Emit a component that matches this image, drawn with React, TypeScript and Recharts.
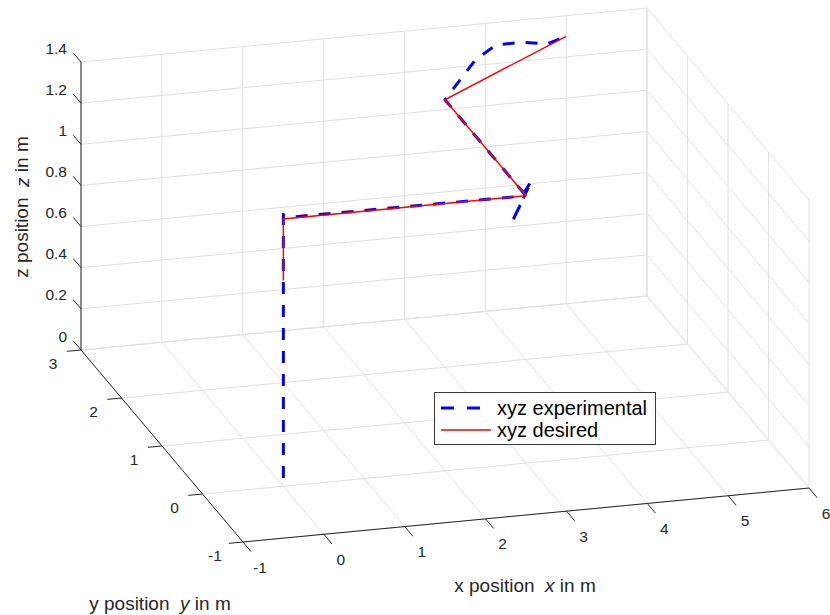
import React from "react";
import {
  ComposedChart,
  Line,
  Scatter,
  XAxis,
  YAxis,
  ReferenceLine,
  Legend
} from "recharts";

// axis ticks (metres)
const xTicks = [-1, 0, 1, 2, 3, 4, 5, 6];
const yTicks = [-1, 0, 1, 2, 3];
const zTicks = [0, 0.2, 0.4, 0.6, 0.8, 1, 1.2, 1.4];

// desired waypoints
const desiredX = [0, 0, 3, 3, 5];
const desiredY = [0, 0, 0, 2, 3];
const desiredZ = [1.0, 1.3, 1.3, 1.3, 1.3];

// measured path
const expX = [0, 0, 0.1, 2.95, 3.21, 2.58, 3, 3, 3.36, 3.73, 4.11, 4.43, 4.71, 5];
const expY = [0, 0, 0, 0, 0.28, -0.49, 0.02, 2, 2.35, 2.71, 2.96, 2.97, 2.89, 3];
const expZ = [0.04, 1.32, 1.305, 1.3, 1.3, 1.3, 1.3, 1.3, 1.3, 1.3, 1.3, 1.3, 1.3, 1.3];

const seriesNames = ["xyz experimental", "xyz desired"];

const W = 830;
const H = 615;
const FONT = '"Liberation Sans", Arial, Helvetica, sans-serif';
const INK = "#262626";
const GRID = "#dfdfdf";

// 3d view: where one metre of each axis ends up on screen (right, up)
const ORIGIN = { u: 243, v: 73 };
const AX = { u: 80.86, v: 7.71 };
const AY = { u: -40.5, v: 48 };
const AZ = { u: 0, v: 205.7 };

const xMin = xTicks[0], xMax = xTicks[xTicks.length - 1];
const yMin = yTicks[0], yMax = yTicks[yTicks.length - 1];
const zMin = zTicks[0], zMax = zTicks[zTicks.length - 1];

function proj(x: number, y: number, z: number) {
  const a = x - xMin, b = y - yMin, c = z - zMin;
  return {
    u: ORIGIN.u + AX.u * a + AY.u * b + AZ.u * c,
    v: ORIGIN.v + AX.v * a + AY.v * b + AZ.v * c
  };
}

type P3 = [number, number, number];
const seg = (a: P3, b: P3) => [proj(a[0], a[1], a[2]), proj(b[0], b[1], b[2])];

const gridSegs = [
  // back wall
  ...xTicks.map((x) => seg([x, yMax, zMin], [x, yMax, zMax])),
  ...zTicks.map((z) => seg([xMin, yMax, z], [xMax, yMax, z])),
  // right wall
  ...yTicks.map((y) => seg([xMax, y, zMin], [xMax, y, zMax])),
  ...zTicks.map((z) => seg([xMax, yMin, z], [xMax, yMax, z])),
  // floor
  ...xTicks.map((x) => seg([x, yMin, zMin], [x, yMax, zMin])),
  ...yTicks.map((y) => seg([xMin, y, zMin], [xMax, y, zMin]))
];

const axisSegs = [
  seg([xMin, yMax, zMin], [xMin, yMax, zMax]),
  seg([xMin, yMin, zMin], [xMin, yMax, zMin]),
  seg([xMin, yMin, zMin], [xMax, yMin, zMin])
];

const tickSegs = [
  ...zTicks.map((z) => seg([xMin, yMax, z], [xMin, yMax + 0.19, z])),
  ...yTicks.map((y) => seg([xMin, y, zMin], [xMin - 0.175, y, zMin])),
  ...xTicks.map((x) => seg([x, yMin, zMin], [x, yMin - 0.2, zMin]))
];

const zLabels = zTicks.map((z) => ({ ...proj(xMin, yMax, z), text: String(z) }));
const yLabels = yTicks.map((y) => ({ ...proj(xMin, y, zMin), text: String(y) }));
const xLabels = xTicks.map((x) => ({ ...proj(x, yMin, zMin), text: String(x) }));

const titles = [
  { ...proj((xMin + xMax) / 2, yMin, zMin), axis: "x", dx: -1, dy: 70, angle: 0 },
  { ...proj(xMin, (yMin + yMax) / 2, zMin), axis: "y", dx: -2, dy: 157, angle: 0 },
  { ...proj(xMin, yMax, (zMin + zMax) / 2), axis: "z", dx: -59, dy: 1, angle: -90 }
];

const expPath = expX.map((x, i) => proj(x, expY[i], expZ[i]));
const desiredPath = desiredX.map((x, i) => proj(x, desiredY[i], desiredZ[i]));

const expStyle = { stroke: "#0000ff", strokeWidth: 3, strokeDasharray: "12 11" };
const desStyle = { stroke: "#ff0000", strokeWidth: 1.5 };

const tickShape = (dx: number, dy: number, anchor: "start" | "middle" | "end") =>
  (p: any) => (
    <text
      x={p.cx + dx}
      y={p.cy + dy}
      textAnchor={anchor}
      dominantBaseline="central"
      fontFamily={FONT}
      fontSize={15.5}
      fill={INK}
    >
      {p.payload.text}
    </text>
  );

const titleShape = (p: any) => {
  const d = p.payload;
  const x = p.cx + d.dx;
  const y = p.cy + d.dy;
  return (
    <text
      x={x}
      y={y}
      textAnchor="middle"
      dominantBaseline="central"
      fontFamily={FONT}
      fontSize={19}
      fill={INK}
      style={{ whiteSpace: "pre" }}
      transform={d.angle ? `rotate(${d.angle} ${x} ${y})` : undefined}
    >
      {`${d.axis} position  `}
      <tspan fontStyle="italic">{d.axis}</tspan>
      {" in m"}
    </text>
  );
};

const renderLegend = () => (
  <div
    style={{
      width: 220,
      height: 51,
      border: "1px solid #3a3a3a",
      background: "#fff",
      fontFamily: FONT,
      fontSize: 20,
      color: "#000"
    }}
  >
    {seriesNames.map((name, i) => {
      const st = i === 0 ? expStyle : desStyle;
      return (
        <div
          key={name}
          style={{ display: "flex", alignItems: "center", height: 22, marginTop: i === 0 ? 4 : 0 }}
        >
          <svg width={62} height={10} style={{ flex: "none" }}>
            <line x1={6} y1={5} x2={56} y2={5} {...st} strokeDasharray={i === 0 ? "13 13" : undefined} />
          </svg>
          <span style={{ lineHeight: "22px", whiteSpace: "nowrap" }}>{name}</span>
        </div>
      );
    })}
  </div>
);

export default function App() {
  return (
    <div style={{ position: "absolute", left: 0, top: 0, width: W, height: H, background: "#fff" }}>
      <ComposedChart width={W} height={H} margin={{ top: 0, right: 0, bottom: 0, left: 0 }}>
        <XAxis type="number" dataKey="u" domain={[0, W]} allowDataOverflow hide />
        <YAxis type="number" dataKey="v" domain={[0, H]} allowDataOverflow hide />

        {gridSegs.map((s, i) => (
          <ReferenceLine
            key={`g${i}`}
            segment={[{ x: s[0].u, y: s[0].v }, { x: s[1].u, y: s[1].v }]}
            stroke={GRID}
            strokeWidth={1}
            ifOverflow="visible"
          />
        ))}
        {[...axisSegs, ...tickSegs].map((s, i) => (
          <ReferenceLine
            key={`a${i}`}
            segment={[{ x: s[0].u, y: s[0].v }, { x: s[1].u, y: s[1].v }]}
            stroke={INK}
            strokeWidth={1}
            ifOverflow="visible"
          />
        ))}

        <Scatter data={zLabels} dataKey="v" shape={tickShape(-14, -14, "end")} legendType="none" isAnimationActive={false} />
        <Scatter data={yLabels} dataKey="v" shape={tickShape(-28, 13, "middle")} legendType="none" isAnimationActive={false} />
        <Scatter data={xLabels} dataKey="v" shape={tickShape(17, 25, "middle")} legendType="none" isAnimationActive={false} />
        <Scatter data={titles} dataKey="v" shape={titleShape} legendType="none" isAnimationActive={false} />

        <Line
          data={expPath}
          dataKey="v"
          name={seriesNames[0]}
          type="linear"
          dot={false}
          activeDot={false}
          {...expStyle}
          isAnimationActive={false}
        />
        <Line
          data={desiredPath}
          dataKey="v"
          name={seriesNames[1]}
          type="linear"
          dot={false}
          activeDot={false}
          {...desStyle}
          isAnimationActive={false}
        />

        <Legend
          layout="vertical"
          align="center"
          verticalAlign="middle"
          content={renderLegend}
          wrapperStyle={{ position: "absolute", left: 434, top: 392, width: 222, height: 53 }}
        />
      </ComposedChart>
    </div>
  );
}
